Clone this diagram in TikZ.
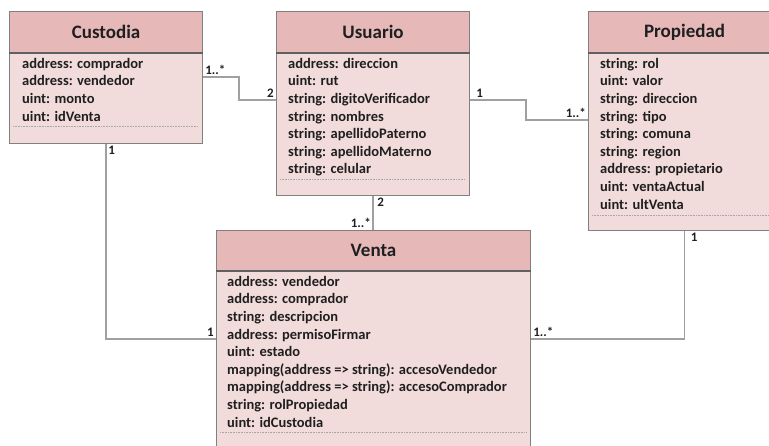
\documentclass[tikz,border=0pt]{standalone}
\usepackage{fontspec}
\setmainfont{Carlito}
\usepackage{xcolor}
\usepackage{tikz}

\definecolor{headfill}{HTML}{E6B9B8}
\definecolor{bodyfill}{HTML}{F2DCDB}
\definecolor{boxline}{HTML}{808080}
\definecolor{divline}{HTML}{606060}
\definecolor{connline}{HTML}{A0A0A0}
\definecolor{txt}{HTML}{1F1F1F}

\tikzset{
  classhead/.style={draw=boxline, fill=headfill, line width=1.1pt, anchor=north west,
    minimum height=41pt, inner sep=0pt, font=\fontsize{19}{22}\selectfont\bfseries, text=txt},
  classbody/.style={draw=boxline, fill=bodyfill, line width=1.1pt, anchor=north west,
    inner sep=0pt},
  attrs/.style={anchor=north west, align=left, inner sep=0pt, text=txt,
    font=\fontsize{14.5}{17.6}\selectfont\bfseries},
  sep/.style={draw=gray!70, densely dotted, line width=0.6pt},
  divider/.style={draw=divline, line width=1.2pt},
  conn/.style={draw=connline, line width=1.4pt},
  mult/.style={inner sep=1.5pt, text=txt, font=\fontsize{13}{15}\selectfont\bfseries}
}

\begin{document}
\begin{tikzpicture}[x=1pt, y=-1pt]
\useasboundingbox (0,0) rectangle (769,446);

% Custodia
\node[classbody, minimum width=193pt, minimum height=91pt] (custodiab) at (9,52) {};
\node[classhead, minimum width=193pt] (custodia) at (9,11) {Custodia};
\draw[divider] (custodia.south west) -- (custodia.south east);
\node[attrs] (custodiat) at (22,58) {address: comprador\\address: vendedor\\uint: monto\\uint: idVenta};
\draw[sep] (13,126) -- (198,126);

% Usuario
\node[classbody, minimum width=193pt, minimum height=143pt] (usuariob) at (276,52) {};
\node[classhead, minimum width=193pt] (usuario) at (276,11) {Usuario};
\draw[divider] (usuario.south west) -- (usuario.south east);
\node[attrs] (usuariot) at (288,58) {address: direccion\\uint: rut\\string: digitoVerificador\\string: nombres\\string: apellidoPaterno\\string: apellidoMaterno\\string: celular};
\draw[sep] (280,179) -- (465,179);

% Propiedad
\node[classbody, minimum width=192pt, minimum height=178pt] (propiedadb) at (588,52) {};
\node[classhead, minimum width=192pt] (propiedad) at (588,11) {Propiedad};
\draw[divider] (propiedad.south west) -- (propiedad.south east);
\node[attrs] (propiedadt) at (600,58) {string: rol\\uint: valor\\string: direccion\\string: tipo\\string: comuna\\string: region\\address: propietario\\uint: ventaActual\\uint: ultVenta};
\draw[sep] (592,215) -- (780,215);

% Venta
\node[classbody, minimum width=314pt, minimum height=190pt] (ventab) at (216,270) {};
\node[classhead, minimum width=314pt, minimum height=40pt] (venta) at (216,230) {Venta};
\draw[divider] (venta.south west) -- (venta.south east);
\node[attrs] (ventat) at (227,276) {address: vendedor\\address: comprador\\string: descripcion\\address: permisoFirmar\\uint: estado\\mapping(address => string): accesoVendedor\\mapping(address => string): accesoComprador\\string: rolPropiedad\\uint: idCustodia};
\draw[sep] (220,432) -- (526,432);

% associations
\draw[conn] ([yshift=-25pt]custodiab.north east) node[mult, anchor=south west] {1..*}
  -- ++(36,0) |- ([yshift=-48pt]usuariob.north west) node[mult, anchor=south east] {2};
\draw[conn] ([yshift=-48pt]usuariob.north east) node[mult, anchor=south west, xshift=4pt] {1}
  -- ++(56,0) |- ([yshift=-68pt]propiedadb.north west) node[mult, anchor=south east] {1..*};
\draw[conn] (usuariob.south) node[mult, anchor=north west, xshift=2pt] {2}
  -- (usuariob.south |- venta.north) node[mult, anchor=south east] {1..*};
\draw[conn] (custodiab.south) node[mult, anchor=north west] {1}
  |- ([yshift=-69pt]ventab.north west) node[mult, anchor=south east] {1};
\draw[conn] (propiedadb.south) node[mult, anchor=north west, xshift=4pt] {1}
  |- ([yshift=-69pt]ventab.north east) node[mult, anchor=south west] {1..*};
\end{tikzpicture}
\end{document}
